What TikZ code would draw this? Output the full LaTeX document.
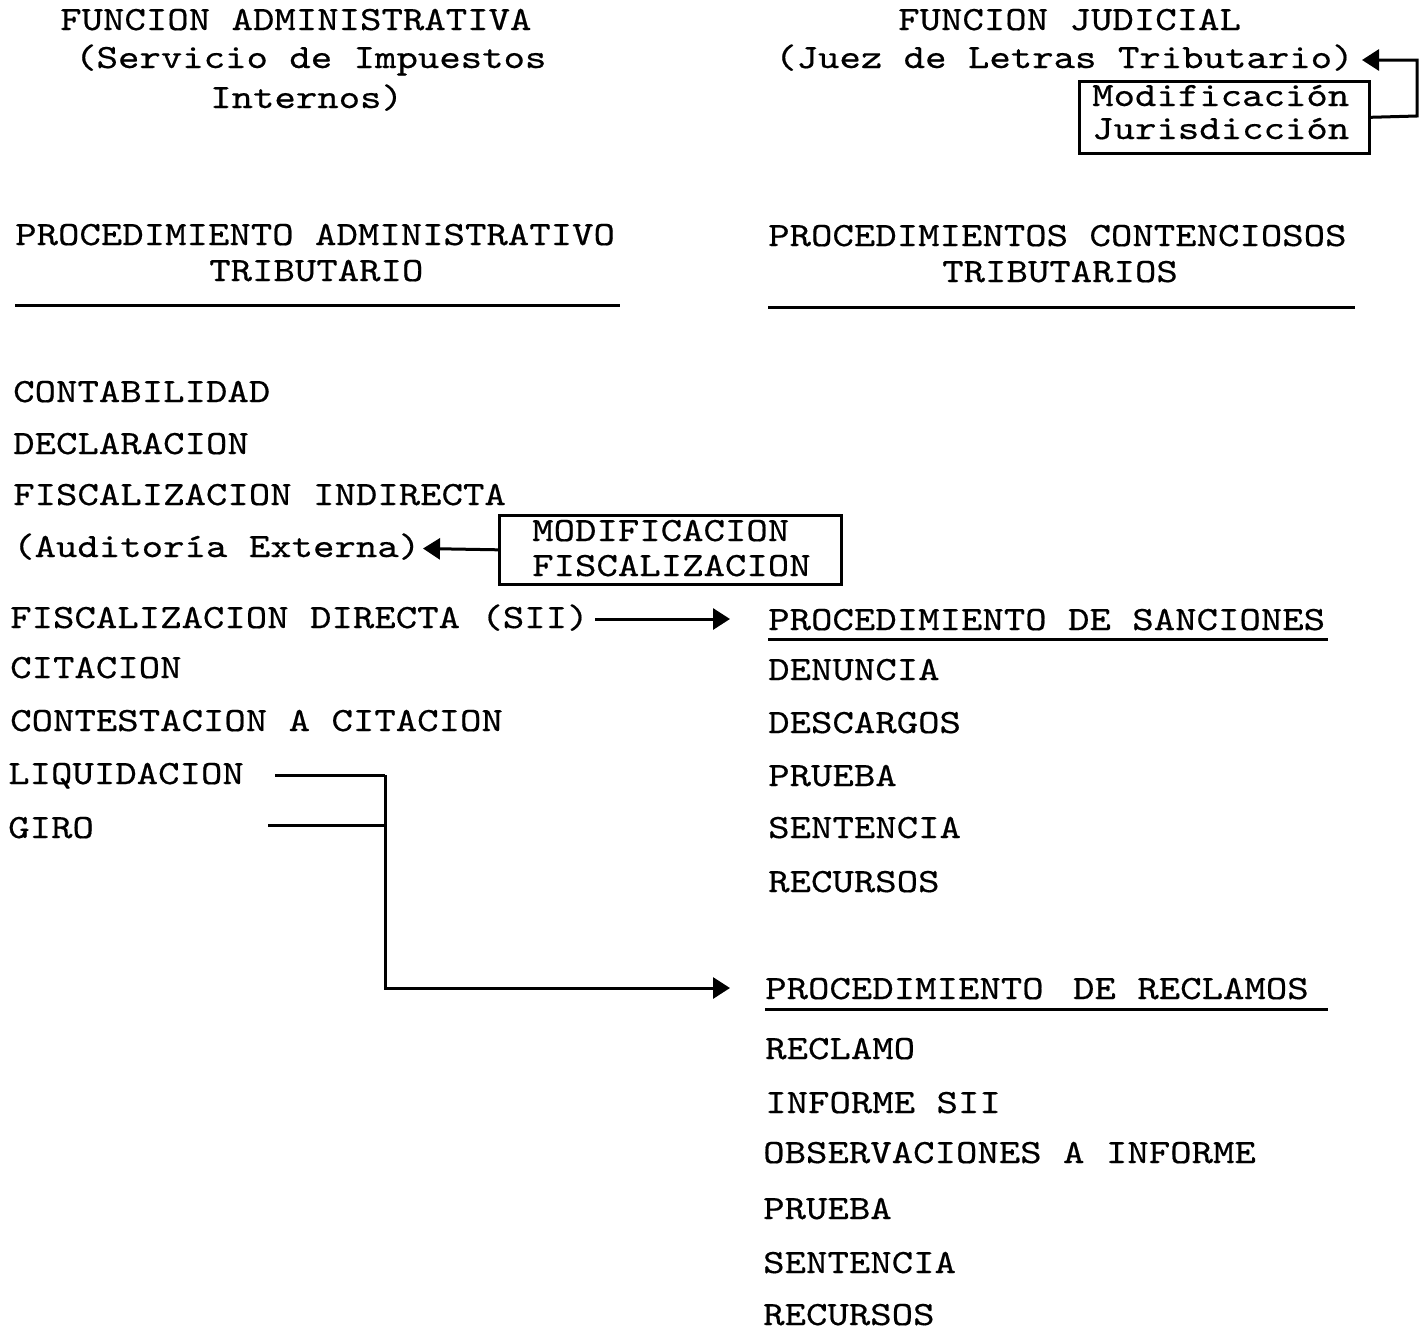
\documentclass[tikz,border=0pt]{standalone}
\usepackage{fontspec}
\setmonofont[FakeStretch=1.2,FakeBold=0.5]{lmmono10-regular.otf}
\usetikzlibrary{arrows.meta}
\tikzset{
  lbl/.style={font=\fontsize{34}{40}\selectfont\ttfamily, anchor=base west, inner sep=0pt},
  rule/.style={line width=3pt},
  framebox/.style={draw, line width=2.6pt, inner sep=0pt, anchor=north west},
  conn/.style={line width=3pt, -{Triangle[length=17pt,width=21pt]}},
  plain/.style={line width=3pt},
}
\begin{document}
\begin{tikzpicture}[x=1pt,y=-1pt]
\useasboundingbox (0,0) rectangle (1427,1331);
% top headings
\node[lbl] (fa) at (60,30) {FUNCION ADMINISTRATIVA};
\node[lbl] (fa2) at (75,68) {(Servicio de Impuestos};
\node[lbl] (fa3) at (210,108) {Internos)};
\node[lbl] (fj) at (898,30) {FUNCION JUDICIAL};
\node[lbl] (fj2) at (775,68) {(Juez de Letras Tributario)};
\node[framebox, minimum width=290pt, minimum height=72pt] (jbox) at (1078,80) {};
\node[lbl] (mj1) at (1092,106) {Modificación};
\node[lbl] (mj2) at (1092,139) {Jurisdicción};
\coordinate (jtip) at (1362,60);
\draw[conn] (jbox.east) -- (1417,116) -- (1417,60) -- (jtip);
% section headings
\node[lbl] (pa) at (15,245) {PROCEDIMIENTO ADMINISTRATIVO};
\node[lbl] (pa2) at (209,281) {TRIBUTARIO};
\draw[rule] (15,305) -- (620,305);
\node[lbl] (pc) at (768,246) {PROCEDIMIENTOS CONTENCIOSOS};
\node[lbl] (pc2) at (942,282) {TRIBUTARIOS};
\draw[rule] (768,307) -- (1355,307);
% left column
\node[lbl] (cont) at (13,402) {CONTABILIDAD};
\node[lbl] (decl) at (13,454) {DECLARACION};
\node[lbl] (find) at (13,505) {FISCALIZACION INDIRECTA};
\node[lbl] (aud) at (13,557) {(Auditoría Externa)};
\node[lbl] (sii) at (10,628) {FISCALIZACION DIRECTA (SII)};
\node[lbl] (cit) at (10,678) {CITACION};
\node[lbl] (contc) at (10,731) {CONTESTACION A CITACION};
\node[lbl] (liq) at (8,784) {LIQUIDACION};
\node[lbl] (giro) at (8,838) {GIRO};
% middle box
\node[framebox, minimum width=342pt, minimum height=69pt] (fbox) at (498,514) {};
\node[lbl] (mf1) at (532,541) {MODIFICACION};
\node[lbl] (mf2) at (532,576) {FISCALIZACION};
\coordinate (audtip) at (423,548.5);
\draw[conn] (fbox.west) -- (audtip);
% right column: sanciones
\node[lbl] (sanc) at (768,630) {PROCEDIMIENTO DE SANCIONES};
\draw[rule] (768,639) -- (1328,639);
\node[lbl] (den) at (768,680) {DENUNCIA};
\node[lbl] (desc) at (768,733) {DESCARGOS};
\node[lbl] (pru1) at (768,786) {PRUEBA};
\node[lbl] (sen1) at (768,838) {SENTENCIA};
\node[lbl] (rec1) at (768,892) {RECURSOS};
% right column: reclamos
\node[lbl] (recl) at (765,999) {PROCEDIMIENTO\hspace{8pt} DE RECLAMOS};
\draw[rule] (765,1009) -- (1328,1009);
\node[lbl] (rcl) at (765,1059) {RECLAMO};
\node[lbl] (inf) at (765,1113) {INFORME SII};
\node[lbl] (obs) at (763,1163) {OBSERVACIONES A INFORME};
\node[lbl] (pru2) at (763,1219) {PRUEBA};
\node[lbl] (sen2) at (763,1273) {SENTENCIA};
\node[lbl] (rec2) at (763,1325) {RECURSOS};
% connectors
\coordinate (siiS) at (595,619);
\coordinate (siiT) at (730,619);
\draw[conn] (siiS) -- (siiT);
\coordinate (liqS) at (275,775);
\coordinate (giroS) at (268,825);
\coordinate (joint) at (385,775);
\coordinate (reclT) at (730,988);
\draw[plain] (liqS) -- (joint);
\draw[plain] (giroS) -- (joint |- giroS);
\draw[conn] (joint) -- (joint |- reclT) -- (reclT);
\end{tikzpicture}
\end{document}
